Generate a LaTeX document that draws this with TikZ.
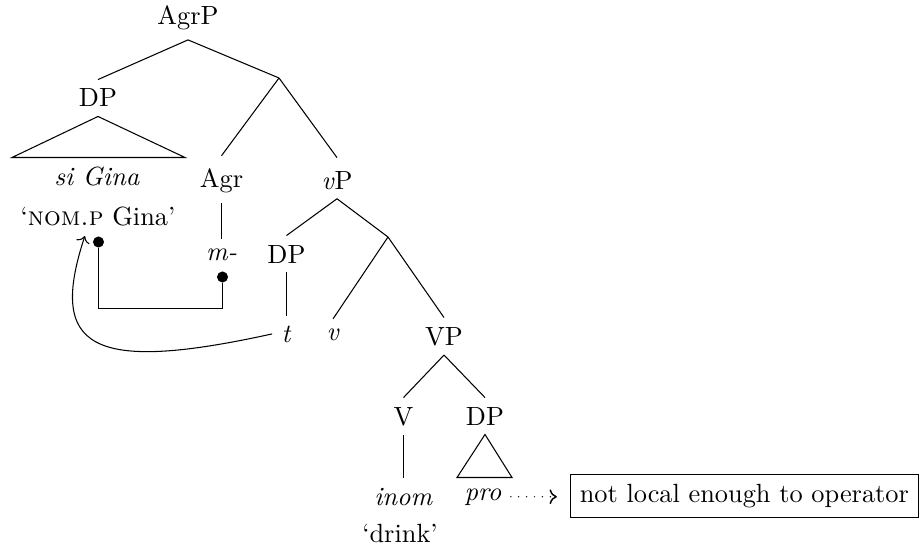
\documentclass[tikz,border=0pt]{standalone}
\usepackage{tikz}
\usetikzlibrary{arrows.meta, positioning, calc}

\begin{document}
\begin{tikzpicture}[x=0.38pt, y=-0.38pt,
  lbl/.style={inner sep=0pt, outer sep=3.6pt, anchor=base},
  dotnode/.style={circle, fill=black, inner sep=0pt, minimum size=4.2pt},
  notebox/.style={draw, inner sep=3.5pt, anchor=west}]
  \useasboundingbox (0,0) rectangle (923,550);
  % Labels of the tree, placed at their baselines
  \node[lbl] (agrp) at (188,25) {AgrP};
  \node[lbl] (dpsubj) at (98,107) {DP};
  \node[lbl] (sigina) at (97,186) {\textit{si Gina}};
  \node[lbl] (gloss) at (98,226) {‘\textsc{nom.p} Gina’};
  \node[lbl] (agr) at (221.5,188) {Agr};
  \node[lbl] (agrm) at (221.5,260) {\textit{m-}};
  \node[lbl] (littlevp) at (337,189) {\textit{v}P};
  \node[lbl] (dptrace) at (286.5,263) {DP};
  \node[lbl] (trace) at (286.5,342) {\textit{t}};
  \node[lbl] (littlev) at (333,340) {\textit{v}};
  \node[lbl] (bigvp) at (444,345) {VP};
  \node[lbl] (verb) at (403.5,425) {V};
  \node[lbl] (dpobj) at (485,425) {DP};
  \node[lbl] (inom) at (403.5,505) {\textit{inom}};
  \node[lbl] (drink) at (400,542) {‘drink’};
  \node[lbl] (pro) at (483,500) {\textit{pro}};
  \node[notebox] (note) at (570,496) {not local enough to operator};
  % Unlabelled branching points
  \coordinate (bar1) at (279,78);
  \coordinate (bar2) at (388,237);
  % Branches
  \draw (agrp.south) -- (dpsubj.north);
  \draw (agrp.south) -- (bar1);
  \draw (bar1) -- ([yshift=1.5pt]agr.north);
  \draw (bar1) -- ([yshift=1.5pt]littlevp.north);
  \draw (agr.south) -- (agrm.north);
  \draw (littlevp.south) -- (dptrace.north);
  \draw (littlevp.south) -- (bar2);
  \draw (dptrace.south) -- (trace.north);
  \draw (bar2) -- (littlev.north);
  \draw (bar2) -- (bigvp.north);
  \draw (bigvp.south) -- (verb.north);
  \draw (bigvp.south) -- (dpobj.north);
  \draw (verb.south) -- (inom.north);
  % Triangles
  \draw (dpsubj.south) -- (185,157.5) -- (12,157.5) -- cycle;
  \draw (dpobj.south) -- (512,477.5) -- (457,477.5) -- cycle;
  % Agreement link
  \node[dotnode] (d1) at (98.5,242) {};
  \node[dotnode] (d2) at (222.5,277) {};
  \coordinate (corner) at (222.5,308.5);
  \draw (d1) |- (corner) -- (d2);
  % Movement of the subject
  \draw[->] (trace.west) .. controls (90,374) and (48,348) .. ([xshift=-5pt]gloss.south);
  % pro and the note
  \draw[line width=0.55pt, line cap=round, dash pattern=on 0pt off 3pt, -{To[line cap=butt]}, shorten >=5pt]
    (pro.east) -- (pro.east -| note.west);
\end{tikzpicture}
\end{document}
